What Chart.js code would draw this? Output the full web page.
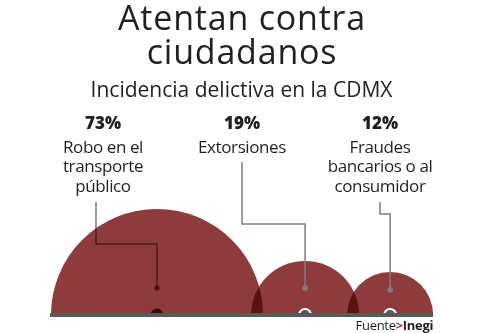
<!DOCTYPE html>
<html>
<head>
<meta charset="utf-8">
<script src="https://cdn.jsdelivr.net/npm/chart.js@4/dist/chart.umd.min.js"></script>
<style>
  html, body { margin: 0; padding: 0; background: #ffffff; }
  #wrap { width: 495px; height: 333px; position: relative; }
</style>
</head>
<body>
<div id="wrap"><canvas id="c" width="495" height="333"></canvas></div>
<script>
// ---- data ----
const categories = [
  ["Robo en el", "transporte", "público"],
  ["Extorsiones"],
  ["Fraudes", "bancarios o al", "consumidor"]
];
const values = [73, 19, 12];
const valueLabels = ["73%", "19%", "12%"];
const titleLines = ["Atentan contra", "ciudadanos"];
const subtitle = "Incidencia delictiva en la CDMX";
const sourceParts = ["Fuente", ">", "Inegi"];

// ---- layout / style ----
const FONT = "'Open Sans', 'Noto Sans', sans-serif";
const BUBBLE = "#8e3b3b";
const OVERLAP = "#5c1212";
const GRAY = "#58595b";
const TEXT = "#231f20";
const W = 495, H = 333;
const baseY = 315;              // px of the baseline (chart-area bottom)
const radiusPerSqrt = 106 / Math.sqrt(73);
const firstLeft = 51;           // left edge of first bubble
const overlapPx = 12;           // how much adjacent bubbles overlap
const labelCenters = [103, 242, 380];

const radii = values.map(v => radiusPerSqrt * Math.sqrt(v));
const centers = [];
radii.forEach((r, i) => {
  if (i === 0) centers.push(firstLeft + r);
  else centers.push(centers[i - 1] + radii[i - 1] + r - overlapPx);
});

// bubbles sit on the baseline: no automatic padding for their overflow
Chart.BubbleController.prototype.getMaxOverflow = function () { return 0; };

const bubblePlugin = {
  id: 'decor',
  afterDatasetDraw(chart, args) {
    if (args.index !== 0) return;
    const ctx = chart.ctx;
    const els = chart.getDatasetMeta(0).data;
    const a = chart.chartArea;
    for (let i = 0; i < els.length - 1; i++) {
      const p = els[i], q = els[i + 1];
      ctx.save();
      ctx.beginPath();
      ctx.rect(0, 0, W, a.bottom);
      ctx.clip();
      ctx.beginPath();
      ctx.arc(p.x, p.y, p.options.radius, 0, Math.PI * 2);
      ctx.clip();
      ctx.beginPath();
      ctx.arc(q.x, q.y, q.options.radius, 0, Math.PI * 2);
      ctx.fillStyle = OVERLAP;
      ctx.fill();
      ctx.restore();
    }
  },
  afterDatasetsDraw(chart) {
    const ctx = chart.ctx;
    const els = chart.getDatasetMeta(0).data;
    const ys = chart.scales.y;
    const by = ys.getPixelForValue(0);
    // baseline
    const first = els[0], last = els[els.length - 1];
    ctx.save();
    ctx.strokeStyle = GRAY;
    ctx.lineWidth = 4;
    ctx.beginPath();
    ctx.moveTo(first.x - first.options.radius - 1, by);
    ctx.lineTo(last.x + last.options.radius, by);
    ctx.stroke();
    ctx.restore();

    // leader lines
    const leaders = [
      { x: 96, top: 202, knee: 244, dot: 288, mult: true },
      { x: 242, top: 162, knee: 224, dot: 288, mult: false },
      { x: 380, top: 202, knee: 214, dot: 290, mult: false }
    ];
    leaders.forEach((L, i) => {
      const e = els[i];
      ctx.save();
      if (L.mult) ctx.globalCompositeOperation = 'multiply';
      ctx.strokeStyle = '#7d7d7d';
      ctx.fillStyle = '#7d7d7d';
      ctx.lineWidth = 1.5;
      ctx.beginPath();
      ctx.moveTo(L.x, L.top);
      ctx.lineTo(L.x, L.knee);
      ctx.lineTo(e.x, L.knee);
      ctx.lineTo(e.x, L.dot);
      ctx.stroke();
      ctx.beginPath();
      ctx.arc(e.x, L.dot, 2.8, 0, Math.PI * 2);
      ctx.fill();
      ctx.restore();
    });

    // texts
    ctx.save();
    ctx.fillStyle = TEXT;
    ctx.textAlign = 'center';
    ctx.textBaseline = 'alphabetic';
    ctx.font = "34px " + FONT;
    ctx.letterSpacing = '0.8px';
    ctx.fillText(titleLines[0], 242, 29.5);
    ctx.fillText(titleLines[1], 242, 63.5);
    ctx.letterSpacing = '0px';
    ctx.font = "21px " + FONT;
    ctx.fillText(subtitle, 241.5, 96.7);
    values.forEach((v, i) => {
      ctx.letterSpacing = '0px';
      ctx.font = "800 17px " + FONT;
      ctx.fillText(valueLabels[i], labelCenters[i], 128.5);
      ctx.font = "17px " + FONT;
      ctx.letterSpacing = '-0.4px';
      categories[i].forEach((line, j) => {
        ctx.fillText(line, labelCenters[i], 152.8 + j * 19.5);
      });
    });
    // source
    ctx.letterSpacing = '-0.3px';
    ctx.textAlign = 'left';
    ctx.font = "13px " + FONT;
    const f1 = ctx.measureText(sourceParts[0]).width;
    ctx.font = "bold 13px " + FONT;
    const f2 = ctx.measureText(sourceParts[1]).width;
    const f3 = ctx.measureText(sourceParts[2]).width;
    let x = last.x + last.options.radius - (f1 + f2 + f3);
    ctx.font = "13px " + FONT;
    ctx.fillStyle = TEXT;
    ctx.fillText(sourceParts[0], x, 330);
    x += f1;
    ctx.font = "bold 13px " + FONT;
    ctx.fillStyle = '#c1272d';
    ctx.fillText(sourceParts[1], x, 330);
    x += f2;
    ctx.fillStyle = TEXT;
    ctx.fillText(sourceParts[2], x, 330);
    ctx.restore();
  }
};

new Chart(document.getElementById('c'), {
  type: 'bubble',
  data: {
    datasets: [
      {
        data: values.map((v, i) => ({ x: centers[i], y: 0, r: radii[i] })),
        backgroundColor: BUBBLE,
        borderWidth: 0,
        clip: { left: false, right: false, top: false, bottom: 0 },
        order: 1
      },
      {
        data: values.map((v, i) => ({ x: centers[i], y: 0, r: i === 0 ? 6.5 : 6 })),
        backgroundColor: ['#3a0d0d', GRAY, GRAY],
        borderColor: ['#3a0d0d', '#ffffff', '#ffffff'],
        borderWidth: [0, 2, 2],
        clip: { left: false, right: false, top: false, bottom: 0 },
        order: 0
      }
    ]
  },
  options: {
    responsive: false,
    animation: false,
    events: [],
    layout: { padding: { top: 0, left: 0, right: 0, bottom: H - baseY } },
    plugins: { legend: { display: false }, tooltip: { enabled: false }, title: { display: false } },
    scales: {
      x: { type: 'linear', display: false, min: 0, max: W },
      y: { type: 'linear', display: false, min: 0, max: baseY }
    }
  },
  plugins: [bubblePlugin]
});
</script>
</body>
</html>
